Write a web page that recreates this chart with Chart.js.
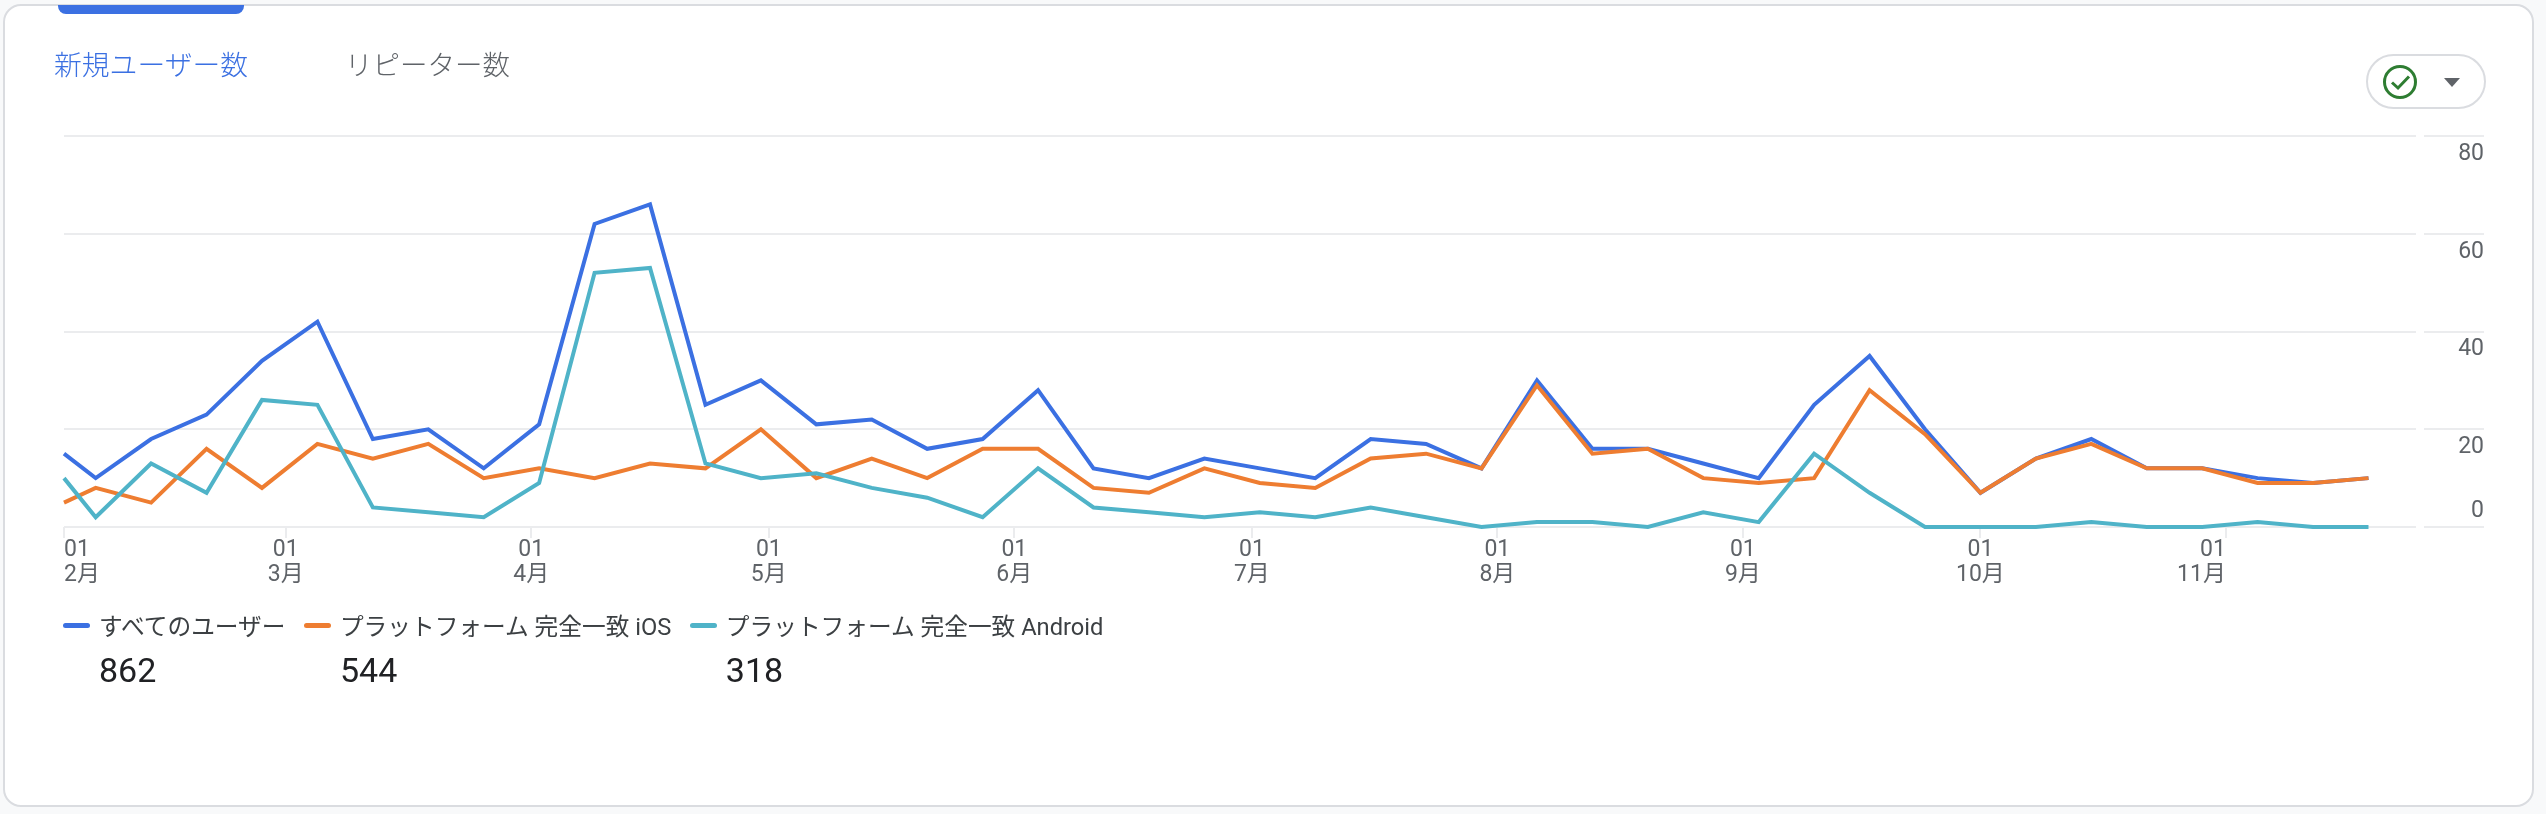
<!DOCTYPE html>
<html lang="ja">
<head>
<meta charset="utf-8">
<title>新規ユーザー数</title>
<script src="https://cdn.jsdelivr.net/npm/chart.js@4/dist/chart.umd.min.js"></script>
<style>
    html, body { margin: 0; padding: 0; width: 2546px; height: 814px; overflow: hidden; background: #f8f9fa; }
    body { font-family: Roboto, "Noto Sans CJK JP", sans-serif; position: relative; }
    .card { position: absolute; left: 3px; top: 4px; width: 2527px; height: 799px; background: #fff; border: 2px solid #dadce0; border-radius: 18px; }
    canvas { position: absolute; left: 0; top: 0; }
    .indicator { position: absolute; left: 58px; top: 5px; width: 186px; height: 9px; background: #3b70e2; border-radius: 0 0 8px 8px; }
    .tab { position: absolute; top: 43px; line-height: 40px; font-family: "Noto Sans CJK JP", sans-serif; font-weight: 300; white-space: nowrap; }
    .tab.on { left: 54px; font-size: 27.8px; color: #3b70e2; }
    .tab.off { left: 345px; font-size: 27.5px; color: #5f6368; }
    .pill { position: absolute; left: 2366px; top: 54px; width: 116px; height: 51px; border: 2px solid #dadce0; border-radius: 28px; background: #fff; }
    .pill svg { position: absolute; left: 0; top: 0; }
    .legend { position: absolute; left: 63px; top: 608px; display: flex; }
    .item { margin-right: 18.5px; }
    .key { display: flex; align-items: center; height: 34px; font-size: 23.7px; color: #3c4043; white-space: nowrap; }
    .swatch { width: 27px; height: 5px; border-radius: 3px; margin-right: 9px; }
    .num { margin-left: 36px; margin-top: 6px; font-size: 34px; line-height: 44px; color: #202124; }
</style>
</head>
<body>
<div class="card"></div>
<canvas id="usersChart" width="2546" height="814"></canvas>
<div class="indicator"></div>
<div class="tab on">新規ユーザー数</div>
<div class="tab off">リピーター数</div>
<div class="pill">
    <svg width="116" height="51" viewBox="0 0 116 51">
        <circle cx="32" cy="26" r="15.5" fill="none" stroke="#2e7d32" stroke-width="3"></circle>
        <path d="M24 26.5 L30 32 L41 20.5" fill="none" stroke="#2e7d32" stroke-width="3"></path>
        <path d="M76 22 L92 22 L84 31 Z" fill="#5f6368"></path>
    </svg>
</div>
<div class="legend" id="legend"></div>

<script>
// 2月1日からの日数
const pointDays = [0, 4, 11, 18, 25, 32, 39, 46, 53, 60, 67, 74, 81, 88, 95, 102, 109, 116, 123, 130, 137, 144,
    151, 158, 165, 172, 179, 186, 193, 200, 207, 214, 221, 228, 235, 242, 249, 256, 263, 270, 277, 284, 291];

const allUsers = [15, 10, 18, 23, 34, 42, 18, 20, 12, 21, 62, 66, 25, 30, 21, 22, 16, 18, 28, 12, 10, 14,
    12, 10, 18, 17, 12, 30, 16, 16, 13, 10, 25, 35, 20, 7, 14, 18, 12, 12, 10, 9, 10];
const iosUsers = [5, 8, 5, 16, 8, 17, 14, 17, 10, 12, 10, 13, 12, 20, 10, 14, 10, 16, 16, 8, 7, 12,
    9, 8, 14, 15, 12, 29, 15, 16, 10, 9, 10, 28, 19, 7, 14, 17, 12, 12, 9, 9, 10];
const androidUsers = [10, 2, 13, 7, 26, 25, 4, 3, 2, 9, 52, 53, 13, 10, 11, 8, 6, 2, 12, 4, 3, 2,
    3, 2, 4, 2, 0, 1, 1, 0, 3, 1, 15, 7, 0, 0, 0, 1, 0, 0, 1, 0, 0];

// 月初の目盛り
const monthDays = [0, 28, 59, 89, 120, 150, 181, 212, 242, 273];
const monthLabels = ['2月', '3月', '4月', '5月', '6月', '7月', '8月', '9月', '10月', '11月'];
const dayLabel = '01';
const yTicks = [0, 20, 40, 60, 80];

const seriesNames = ['すべてのユーザー', 'プラットフォーム 完全一致 iOS', 'プラットフォーム 完全一致 Android'];
const seriesTotals = ['862', '544', '318'];
const seriesColors = ['#3b70e2', '#ee7d31', '#4fb3c8'];
const seriesValues = [allUsers, iosUsers, androidUsers];

const gridColor = '#ebecee';
const textColor = '#5f6368';
const fontFamily = 'Roboto, "Noto Sans CJK JP", sans-serif';

// 凡例はHTMLで作る
const legendBox = document.getElementById('legend');
seriesNames.forEach((name, i) => {
    const item = document.createElement('div');
    item.className = 'item';
    item.innerHTML = '<div class="key"><span class="swatch" style="background:' + seriesColors[i] + '"></span>' + name + '</div>'
        + '<div class="num">' + seriesTotals[i] + '</div>';
    legendBox.appendChild(item);
});

new Chart(document.getElementById('usersChart').getContext('2d'), {
    type: 'line',
    data: {
        datasets: seriesNames.map((name, i) => ({
            label: name,
            data: pointDays.map((d, k) => ({ x: d, y: seriesValues[i][k] })),
            borderColor: seriesColors[i],
            borderWidth: 4,
            pointRadius: 0,
            tension: 0,
            clip: false,
            order: 3 - i // 後の系列を上に描く
        }))
    },
    options: {
        responsive: false,
        animation: false,
        layout: { padding: { left: 64, top: 136, right: 62, bottom: 227 } },
        plugins: { legend: { display: false }, tooltip: { enabled: false } },
        scales: {
            x: {
                type: 'linear',
                min: 0,
                max: 297,
                afterBuildTicks: (scale) => { scale.ticks = monthDays.map(v => ({ value: v })); },
                afterFit: (scale) => { scale.height = 60; scale.paddingLeft = 0; scale.paddingRight = 0; },
                border: { display: false },
                grid: { drawOnChartArea: false, drawTicks: true, tickLength: 11, color: gridColor, lineWidth: 2 },
                ticks: {
                    align: 'inner', // 最初は左寄せ、最後は右寄せ
                    autoSkip: false,
                    maxRotation: 0,
                    padding: 0,
                    color: textColor,
                    font: { family: fontFamily, size: 23, lineHeight: 1.07 },
                    callback: (value, index) => [dayLabel, monthLabels[index]]
                }
            },
            y: {
                position: 'right',
                min: 0,
                max: 80,
                afterBuildTicks: (scale) => { scale.ticks = yTicks.map(v => ({ value: v })); },
                afterFit: (scale) => { scale.width = 68; scale.paddingTop = 0; scale.paddingBottom = 0; },
                border: { display: false },
                grid: { color: gridColor, lineWidth: 2, drawTicks: true, tickLength: 68, tickColor: gridColor, tickBorderDash: [0, 8, 60, 100] },
                ticks: {
                    autoSkip: false,
                    crossAlign: 'far',
                    padding: -25,
                    labelOffset: 18,
                    color: textColor,
                    font: { family: fontFamily, size: 23, lineHeight: 1.48 },
                    // 0だけ線の上に出す
                    callback: (value) => value === 0 ? ['0', '', ''] : String(value)
                }
            }
        }
    }
});
</script>
</body>
</html>
